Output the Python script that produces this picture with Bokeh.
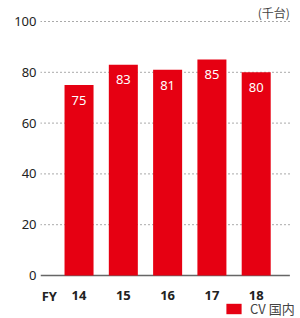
from bokeh.plotting import figure
from bokeh.models import ColumnDataSource, FixedTicker, Range1d, Label, Legend, LegendItem
from bokeh.embed import file_html
from bokeh.resources import INLINE
from bokeh.core.properties import value

years = [14, 15, 16, 17, 18]
values = [75, 83, 81, 85, 80]
bar_labels = [str(v) for v in values]
x_labels = [str(y) for y in years]
y_ticks = [0, 20, 40, 60, 80, 100]
fy_pos = 13.33
fy_label = "FY"
unit_label = "(千台)"
series_name = "CV 国内"

RED = "#e60012"
NUM_FONT = "Noto Sans"
JP_FONT = "Noto Sans CJK JP"

# plot extents (data units)
x_start, x_grid_end, x_end = 13.13, 18.76, 19.0
y_start, y_end = -16.93, 108.27
label_row_y = -7.9

src = ColumnDataSource(dict(x=years, top=values, lab=bar_labels,
                            ly=[v - 6 for v in values]))
xl_src = ColumnDataSource(dict(x=[fy_pos] + years,
                               y=[label_row_y] * (len(years) + 1),
                               t=[fy_label] + x_labels))
grid_ticks = [t for t in y_ticks if t > 0]
grid_src = ColumnDataSource(dict(x0=[x_start] * len(grid_ticks),
                                 x1=[x_grid_end] * len(grid_ticks),
                                 y=grid_ticks))

p = figure(width=300, height=318, output_backend="svg", toolbar_location=None,
           x_range=Range1d(x_start, x_end), y_range=Range1d(y_start, y_end),
           min_border_left=40, min_border_right=0, min_border_top=0,
           min_border_bottom=0)
p.outline_line_color = None
p.background_fill_color = "white"
p.xaxis.visible = False
p.xgrid.visible = False
p.ygrid.visible = False

# dotted grid lines and zero baseline
p.segment(x0="x0", x1="x1", y0="y", y1="y", source=grid_src,
          line_color="#555555", line_dash="1 3", line_width=1)
p.segment(x0=[x_start], x1=[x_grid_end], y0=[0], y1=[0],
          line_color="#666666", line_width=1.5)

bars = p.vbar(x="x", top="top", bottom=0, width=0.655, source=src,
              fill_color=RED, line_color=None)
p.text(x="x", y="ly", text="lab", source=src, text_align="center",
       text_baseline="middle", text_color="white", text_font_size="13px",
       text_font=value(NUM_FONT))
p.text(x="x", y="y", text="t", source=xl_src, text_align="center",
       text_baseline="middle", text_color="#222222", text_font_size="13px",
       text_font=value(NUM_FONT), text_font_style="bold")

# y axis
ya = p.yaxis[0]
ya.ticker = FixedTicker(ticks=y_ticks)
ya.axis_line_color = None
ya.major_tick_line_color = None
ya.minor_tick_line_color = None
ya.major_tick_out = 0
ya.minor_tick_out = 0
ya.major_label_standoff = 4
ya.major_label_text_font = NUM_FONT
ya.major_label_text_font_size = "13px"
ya.major_label_text_color = "#222222"

p.add_layout(Label(x=x_grid_end, y=103.55, text=unit_label, text_align="right",
                   text_baseline="middle", text_font_size="12px",
                   text_font=JP_FONT, text_color="#444444"))

legend = Legend(items=[LegendItem(label=series_name, renderers=[bars])],
                location=(184, 0), padding=0, margin=0, spacing=0,
                glyph_width=19, glyph_height=13, label_standoff=7,
                label_height=13,
                label_text_font=JP_FONT, label_text_font_size="13px",
                label_text_color="#444444", background_fill_alpha=0,
                border_line_color=None)
p.add_layout(legend)

open("out.html", "w").write(file_html(p, INLINE))
